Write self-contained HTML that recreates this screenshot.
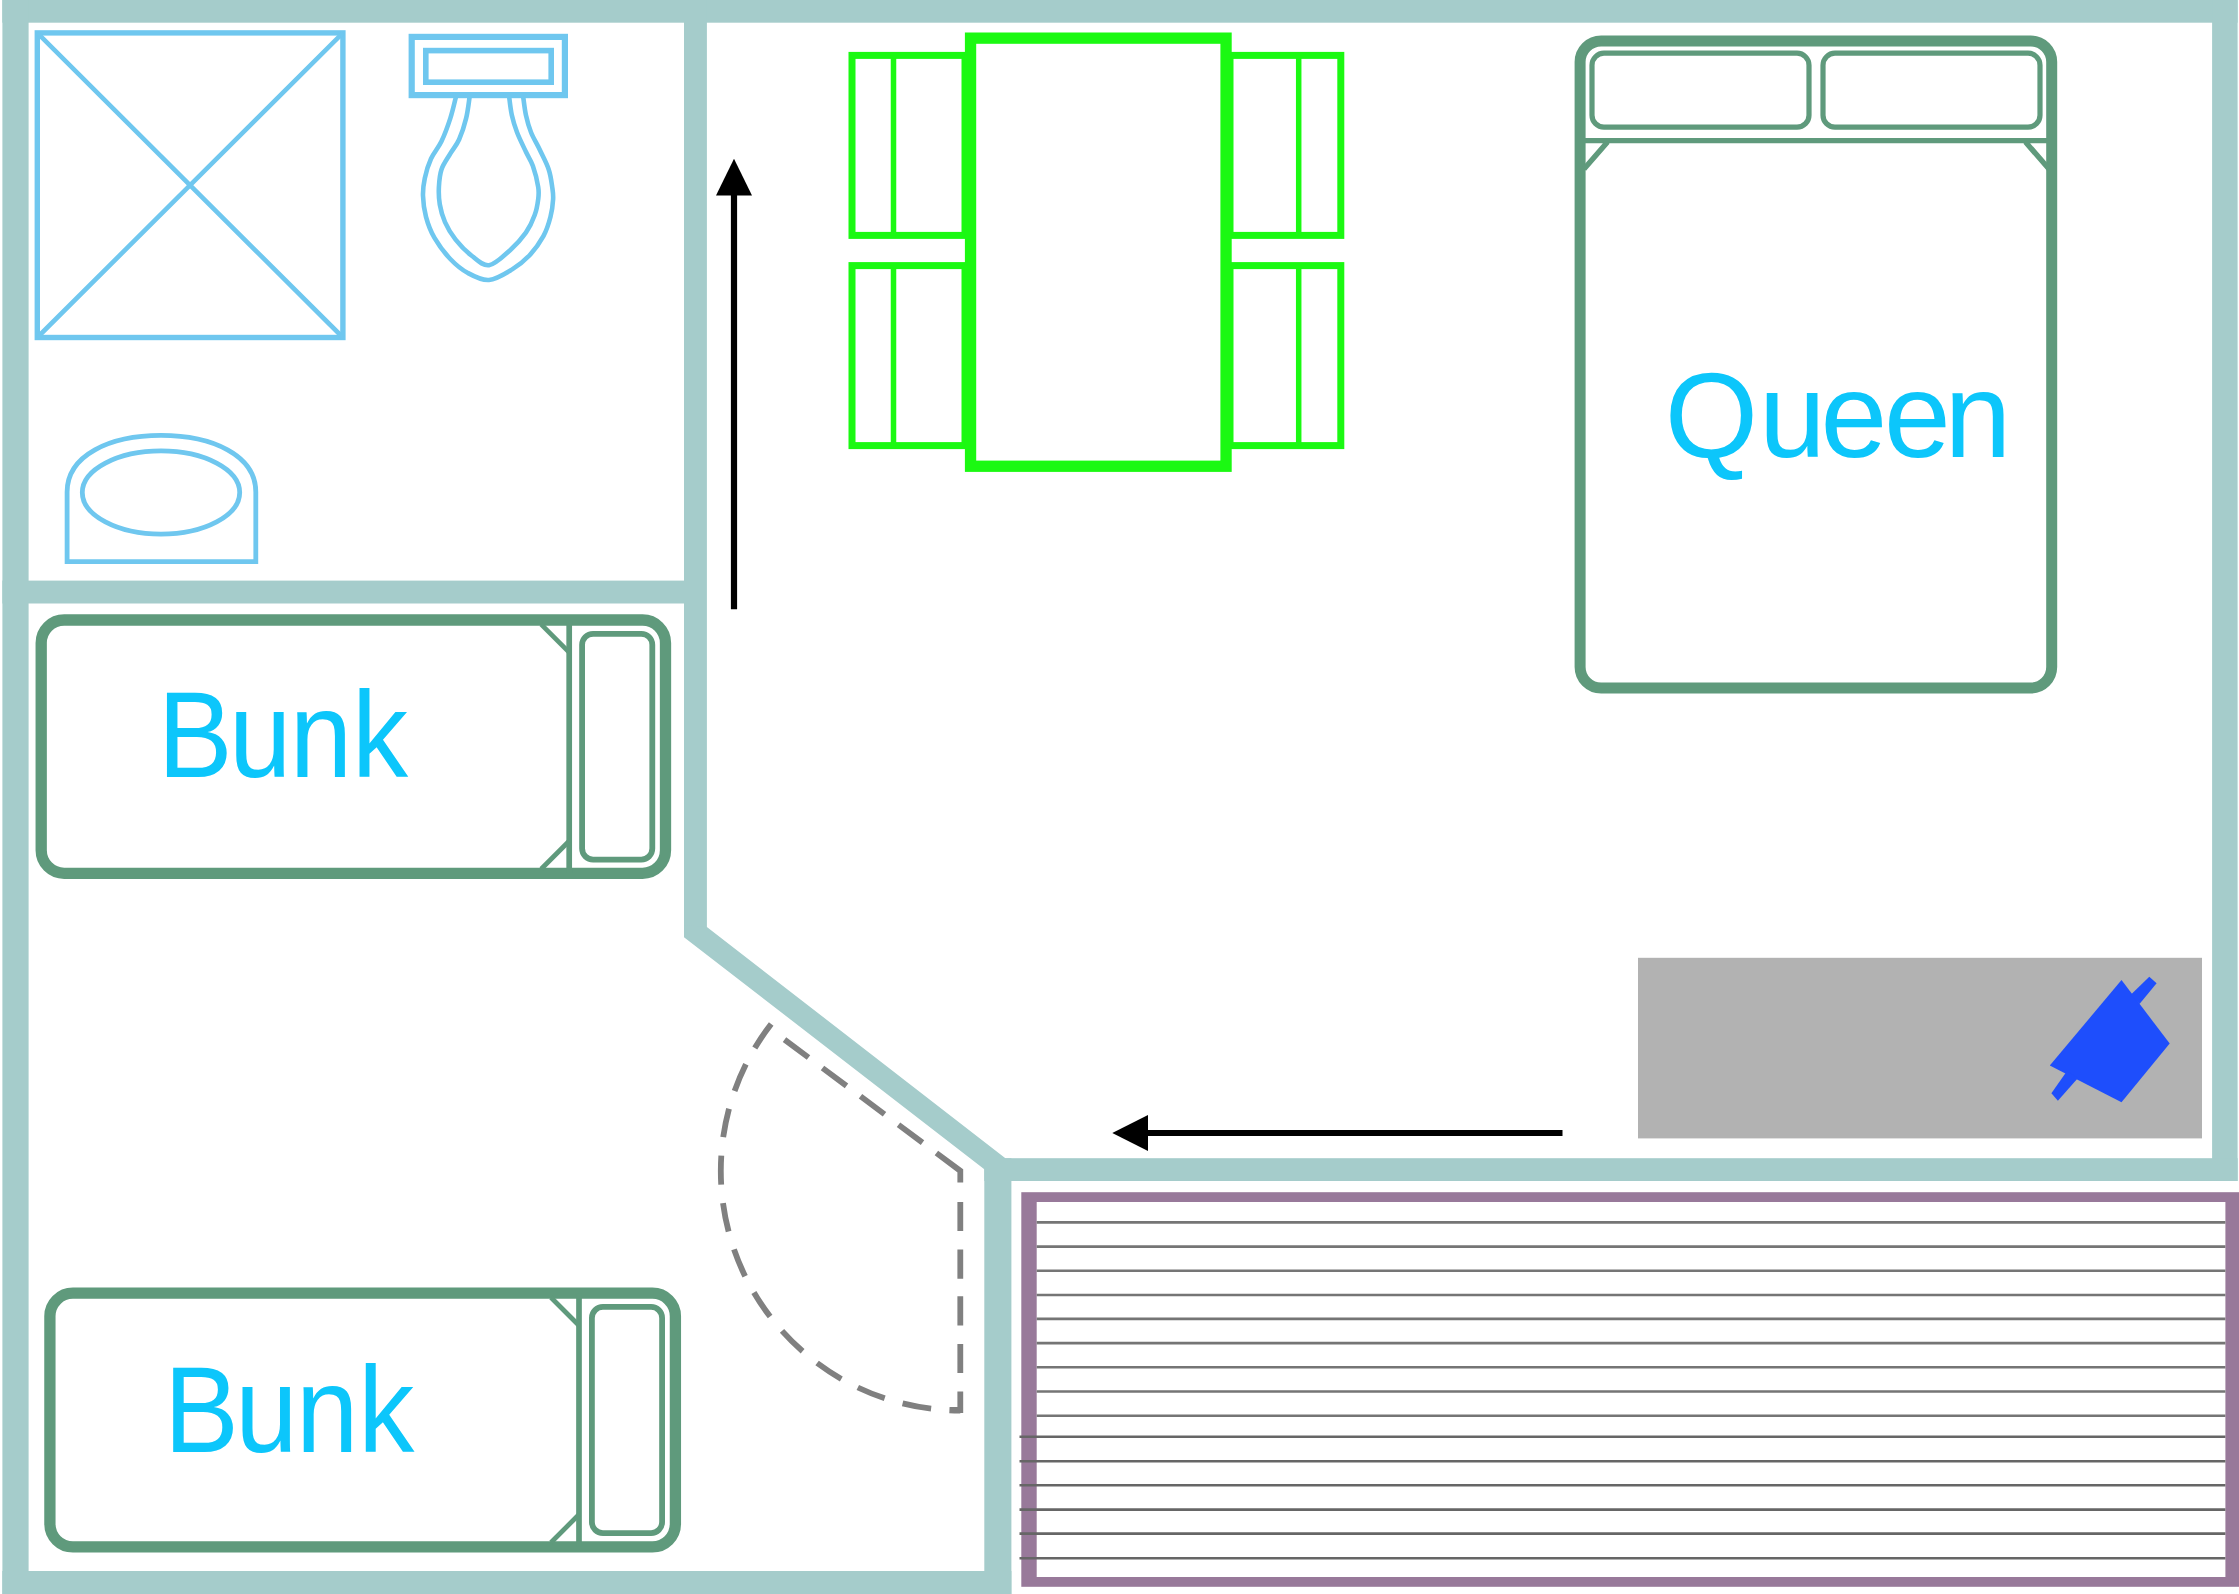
<!DOCTYPE html>
<html lang="en"><head><meta charset="utf-8"><title>Cabin floor plan</title>
<style>html,body{margin:0;padding:0;background:#fff;}body{width:2239px;height:1594px;overflow:hidden;}svg{display:block;}</style>
</head><body>
<svg width="2239" height="1594" viewBox="0 0 2239 1594">
<rect x="0" y="0" width="2239" height="1594" fill="#ffffff"/>
<g id="walls" fill="#a5cccb">
<rect x="2.3" y="0" width="2235.3" height="22.7"/>
<rect x="2.4" y="0" width="26.2" height="1594"/>
<rect x="2212.1" y="0" width="25.5" height="1181"/>
<rect x="684" y="0" width="22.9" height="932"/>
<rect x="2.4" y="580.6" width="690" height="22.9"/>
<polygon points="684,925 706.9,927 1005.4,1158.2 1011.4,1158.2 1011.4,1181 984.3,1181 984.3,1169.2 684,937.2"/>
<rect x="1000" y="1158.2" width="1237.6" height="22.8"/>
<rect x="984.3" y="1168" width="27.1" height="426"/>
<rect x="2.3" y="1571" width="1009.1" height="23"/>
</g>
<g id="shower" fill="none" stroke="#6fc7ef">
<rect x="37.3" y="32.9" width="305.6" height="304.6" stroke-width="5.4"/>
<path d="M37.3 32.9 L342.9 337.5 M342.9 32.9 L37.3 337.5" stroke-width="4.6"/>
</g>
<g id="toilet" fill="none" stroke="#6fc7ef" stroke-width="4.6">
<rect x="411.7" y="36.9" width="153.2" height="58.2" stroke-width="6.2"/>
<rect x="425.8" y="50.6" width="125.4" height="31.6" stroke-width="5.6"/>
<path d="M455.9 97.0 C455.0 100.6 452.7 111.0 450.3 118.4 C447.9 125.8 444.7 134.6 441.5 141.3 C438.3 148.0 433.8 152.7 431.0 158.8 C428.2 165.0 426.1 172.0 424.8 178.2 C423.5 184.3 422.8 189.3 423.0 195.7 C423.2 202.1 424.1 209.8 426.0 216.8 C427.9 223.8 430.4 230.9 434.5 237.9 C438.6 244.9 444.7 253.2 450.3 259.0 C455.9 264.9 461.4 269.5 467.9 273.0 C474.3 276.5 481.7 280.6 489.0 280.0 C496.3 279.4 505.1 273.7 511.8 269.6 C518.5 265.5 524.1 261.1 529.4 255.5 C534.7 249.9 539.9 242.6 543.4 236.2 C546.9 229.8 548.9 223.0 550.5 216.8 C552.1 210.7 552.8 204.3 553.1 199.3 C553.4 194.3 552.9 192.0 552.2 187.0 C551.5 182.0 550.8 175.6 548.7 169.4 C546.7 163.2 542.8 156.2 539.9 150.0 C537.0 143.8 533.4 138.3 531.1 132.5 C528.8 126.7 527.2 120.8 525.9 114.9 C524.6 109.0 523.7 100.0 523.2 97.0"/>
<path d="M469.6 97.0 C469.0 100.6 467.9 111.3 466.1 118.4 C464.4 125.5 461.7 133.6 459.1 139.5 C456.5 145.4 453.2 148.6 450.3 153.6 C447.4 158.6 443.4 163.8 441.5 169.4 C439.6 175.0 439.2 181.2 438.9 187.0 C438.6 192.8 438.8 198.7 439.8 204.5 C440.8 210.3 442.4 216.2 445.0 222.1 C447.6 228.0 451.2 234.1 455.6 239.7 C460.0 245.3 465.8 251.2 471.4 255.5 C477.0 259.8 482.6 266.1 489.0 265.2 C495.4 264.3 504.0 255.6 510.1 250.2 C516.2 244.8 521.8 238.5 525.9 232.7 C530.0 226.8 532.7 220.7 534.7 215.1 C536.8 209.5 537.6 204.0 538.2 199.3 C538.8 194.6 539.1 192.6 538.2 187.0 C537.3 181.4 535.0 171.8 532.9 165.9 C530.8 160.0 528.5 157.4 525.9 151.8 C523.3 146.2 519.5 138.7 517.1 132.5 C514.8 126.3 513.1 120.8 511.8 114.9 C510.5 109.0 509.6 100.0 509.2 97.0"/>
</g>
<g id="sink" fill="none" stroke="#6fc7ef" stroke-width="4.8">
<path d="M67.1 561.6 L67.1 492 C67.1 455 110 435.4 161 435.4 C212 435.4 255.8 455 255.8 492 L255.8 561.6 Z"/>
<ellipse cx="161" cy="492.5" rx="78.7" ry="41.6"/>
</g>
<g id="dining" fill="none" stroke="#1bf912">
<g stroke-width="7">
<rect x="852" y="55.4" width="113" height="180.0"/>
<rect x="1230" y="55.4" width="110.8" height="180.0"/>
<rect x="852" y="265.6" width="113" height="180.0"/>
<rect x="1230" y="265.6" width="110.8" height="180.0"/>
</g><g stroke-width="5.5">
<line x1="893.5" y1="55.4" x2="893.5" y2="235.4"/>
<line x1="1298.7" y1="55.4" x2="1298.7" y2="235.4"/>
<line x1="893.5" y1="265.6" x2="893.5" y2="445.6"/>
<line x1="1298.7" y1="265.6" x2="1298.7" y2="445.6"/>
</g>
<rect x="964.9" y="32.5" width="266.8" height="439.4" fill="#1bf912" stroke="none"/>
<rect x="976.2" y="43.8" width="244.2" height="416.8" fill="#fff" stroke="none"/>
</g>
<g id="queen-bed" fill="none" stroke="#5f9a7c">
<rect x="1580.1" y="41" width="471.6" height="647" rx="21" stroke-width="11"/>
<rect x="1592" y="53.2" width="217" height="74" rx="12" stroke-width="5.2"/>
<rect x="1823" y="53.2" width="217" height="74" rx="12" stroke-width="5.2"/>
<path d="M1584 140.6 H2049 M1584 169 L1607.5 142 M2049 169 L2025.5 142" stroke-width="5.4"/>
</g>
<g class="bunk" fill="none" stroke="#5f9a7c">
<rect x="41.2" y="620.0" width="624.3" height="253.3" rx="23" stroke-width="11.3"/>
<rect x="582.1" y="633.8" width="70.2" height="225.8" rx="11" stroke-width="5.8"/>
<path d="M569.2 620.4 V873.0" stroke-width="5.7"/>
<path d="M569.2 652.4 L541.2 624.4 M569.2 841.0 L541.2 869.0" stroke-width="4.8"/>
</g>
<g class="bunk" fill="none" stroke="#5f9a7c">
<rect x="49.9" y="1293.2" width="625.5" height="253.7" rx="23" stroke-width="11.3"/>
<rect x="591.9" y="1306.9" width="70.2" height="226.2" rx="11" stroke-width="5.8"/>
<path d="M579.0 1293.5 V1546.5" stroke-width="5.7"/>
<path d="M579.0 1325.5 L551.0 1297.5 M579.0 1514.5 L551.0 1542.5" stroke-width="4.8"/>
</g>
<g id="labels" fill="#0cc6fb" font-family="'Liberation Sans', sans-serif">
<text font-size="120" y="456.5" x="1664.8 1759.1 1820.5 1883.9 1944.5">Queen</text>
<text font-size="122" transform="scale(0.92,1)" y="777.5" x="171.4 249.0 315.0 382.7">Bunk</text>
<text font-size="122" transform="scale(0.92,1)" y="1452.5" x="178.2 255.8 321.8 389.5">Bunk</text>
</g>
<g id="arrows" fill="#000" stroke="#000">
<line x1="734" y1="609.3" x2="734" y2="190" stroke-width="6.2"/>
<polygon points="734,158.8 752,195.6 716,195.6" stroke="none"/>
<line x1="1562.5" y1="1133" x2="1145" y2="1133" stroke-width="6"/>
<polygon points="1112.3,1133 1148,1115 1148,1151" stroke="none"/>
</g>
<rect x="1638" y="957.8" width="564" height="180.6" fill="#b2b2b2"/>
<g id="plug" fill="#1e4efc">
<polygon points="2121.5,980 2169.7,1043.6 2121.5,1102.3 2049.8,1065.6"/>
<polygon points="2130.5,995 2149.3,976.7 2156.6,983.2 2139.5,1004"/>
<polygon points="2067,1071 2051.4,1093.3 2057.9,1100.7 2078,1078"/>
</g>
<path id="door" d="M960.3 1410.5 A239.5 239.5 0 0 1 949.4 1410.3 M931.1 1408.7 A239.5 239.5 0 0 1 902.6 1403.4 M884.7 1398.3 A239.5 239.5 0 0 1 857.8 1387.5 M841.3 1378.9 A239.5 239.5 0 0 1 817.1 1363.0 M802.6 1351.3 A239.5 239.5 0 0 1 782.0 1330.9 M770.1 1316.6 A239.5 239.5 0 0 1 753.9 1292.5 M745.1 1276.2 A239.5 239.5 0 0 1 734.0 1249.4 M728.6 1231.6 A239.5 239.5 0 0 1 723.0 1203.1 M721.2 1184.7 A239.5 239.5 0 0 1 721.3 1155.6 M723.2 1137.2 A239.5 239.5 0 0 1 729.0 1108.7 M734.6 1091.0 A239.5 239.5 0 0 1 745.9 1064.3 M754.8 1048.0 A239.5 239.5 0 0 1 771.2 1024.0 M949.6 1410 H960.3 V1391.5 M960.3 1373 V1343.9 M960.3 1325.4 V1296.2 M960.3 1278.7 V1249.6 M960.3 1231 V1202 M784.5 1039.6 L808.5 1057.5 M822.5 1068.0 L846.5 1085.9 M860.5 1096.3 L884.5 1114.2 M898.5 1124.7 L922.5 1142.6 M936.4 1153.0 L960.3 1170.8 V1182.5" fill="none" stroke="#808080" stroke-width="5.8" stroke-linejoin="miter"/>
<g id="deck">
<rect x="1021.3" y="1192.2" width="1217.7" height="394.6" fill="#98799a"/>
<rect x="1036.7" y="1202" width="1188.7" height="375" fill="#fff"/>
<line x1="1036.7" y1="1222.4" x2="2225.4" y2="1222.4" stroke="#757575" stroke-width="2.6"/>
<line x1="1036.7" y1="1246.6" x2="2225.4" y2="1246.6" stroke="#757575" stroke-width="2.6"/>
<line x1="1036.7" y1="1270.8" x2="2225.4" y2="1270.8" stroke="#757575" stroke-width="2.6"/>
<line x1="1036.7" y1="1295" x2="2225.4" y2="1295" stroke="#757575" stroke-width="2.6"/>
<line x1="1036.7" y1="1318.9" x2="2225.4" y2="1318.9" stroke="#757575" stroke-width="2.6"/>
<line x1="1036.7" y1="1343.1" x2="2225.4" y2="1343.1" stroke="#757575" stroke-width="2.6"/>
<line x1="1036.7" y1="1367.3" x2="2225.4" y2="1367.3" stroke="#757575" stroke-width="2.6"/>
<line x1="1036.7" y1="1391.5" x2="2225.4" y2="1391.5" stroke="#757575" stroke-width="2.6"/>
<line x1="1036.7" y1="1415.7" x2="2225.4" y2="1415.7" stroke="#757575" stroke-width="2.6"/>
<line x1="1019.5" y1="1436.8" x2="2225.4" y2="1436.8" stroke="#666" stroke-width="2.6"/>
<line x1="1019.5" y1="1461.2" x2="2225.4" y2="1461.2" stroke="#666" stroke-width="2.6"/>
<line x1="1019.5" y1="1485.2" x2="2225.4" y2="1485.2" stroke="#666" stroke-width="2.6"/>
<line x1="1019.5" y1="1509.6" x2="2225.4" y2="1509.6" stroke="#666" stroke-width="2.6"/>
<line x1="1019.5" y1="1533.6" x2="2225.4" y2="1533.6" stroke="#666" stroke-width="2.6"/>
<line x1="1019.5" y1="1558.3" x2="2225.4" y2="1558.3" stroke="#666" stroke-width="2.6"/>
</g>
</svg>
</body></html>
